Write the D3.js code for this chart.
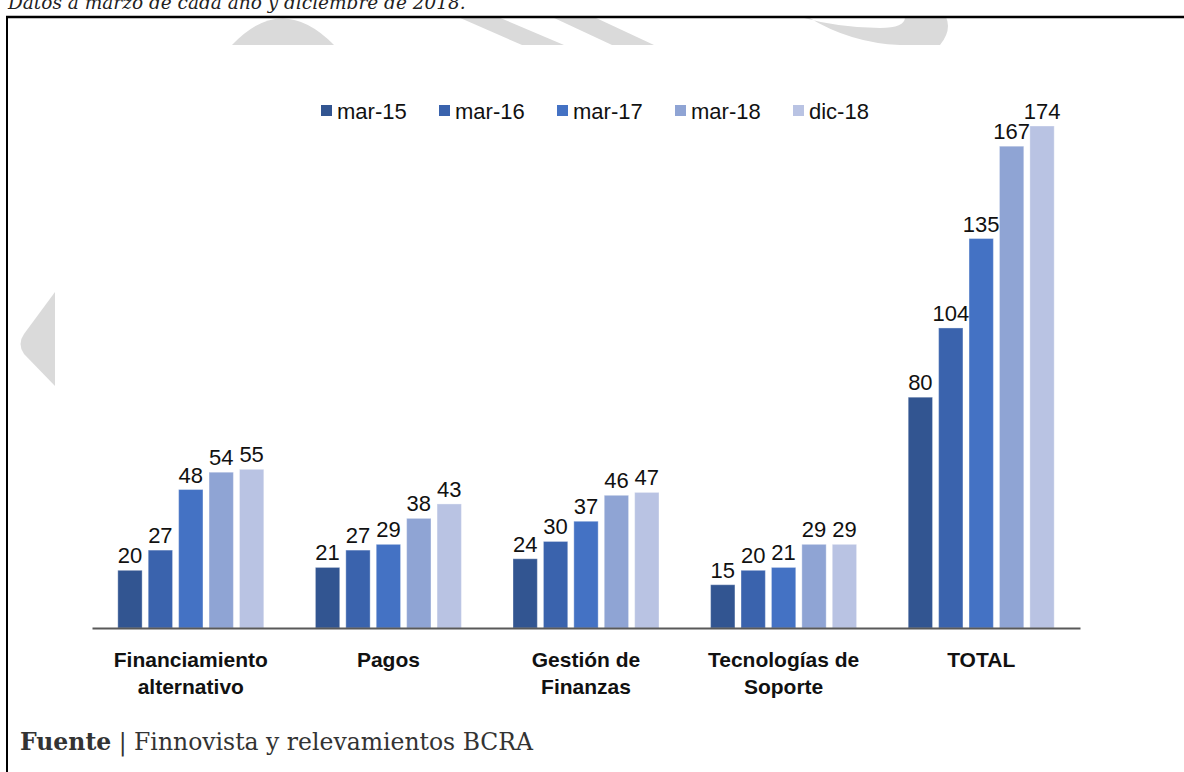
<!DOCTYPE html>
<html>
<head>
<meta charset="utf-8">
<script src="https://cdn.jsdelivr.net/npm/d3@7"></script>
<style>
  html, body { margin: 0; padding: 0; background: #ffffff; }
  svg { display: block; }
</style>
</head>
<body>
<div id="chart"></div>
<script>
// ---- data ----
const categories = ["Financiamiento alternativo", "Pagos", "Gestión de Finanzas", "Tecnologías de Soporte", "TOTAL"];
const categoryLines = [["Financiamiento", "alternativo"], ["Pagos"], ["Gestión de", "Finanzas"], ["Tecnologías de", "Soporte"], ["TOTAL"]];
const seriesNames = ["mar-15", "mar-16", "mar-17", "mar-18", "dic-18"];
const mar15 = [20, 21, 24, 15, 80];
const mar16 = [27, 27, 30, 20, 104];
const mar17 = [48, 29, 37, 21, 135];
const mar18 = [54, 38, 46, 29, 167];
const dic18 = [55, 43, 47, 29, 174];
const seriesColors = ["#325591", "#3a63ad", "#4472c4", "#8fa4d4", "#b9c3e3"];
const subtitle = "Datos a marzo de cada año y diciembre de 2018.";
const sourceBold = "Fuente";
const sourceText = "Finnovista y relevamientos BCRA";

const seriesValues = [mar15, mar16, mar17, mar18, dic18];
const rows = categories.map((c, i) => ({
  cat: c,
  lines: categoryLines[i],
  vals: seriesNames.map((s, j) => ({ s, v: seriesValues[j][i], color: seriesColors[j] }))
}));

const W = 1184, H = 772;
const svg = d3.select("#chart").append("svg").attr("width", W).attr("height", H);
svg.append("rect").attr("width", W).attr("height", H).attr("fill", "#fff");

// watermark shapes (light grey)
const wm = svg.append("g").attr("fill", "#dadada");
wm.append("path").attr("d", "M232,45 Q282,-8 334,45 Z");
wm.append("path").attr("d", "M458,17 L498,17 L564,45 L522,45 Z");
wm.append("path").attr("d", "M552,17 L594,17 L654,45 L612,45 Z");
wm.append("path").attr("d", "M760,17 L808,17 Q850,43 900,45 L940,45 Q952,30 946,17 L905,17 Q905,28 880,28 Q840,28 800,17 Z");
wm.append("path").attr("d", "M55,292 L24,334 Q17,344 24,354 L55,386 Z");

// subtitle (cut off at top)
svg.append("text")
  .attr("x", 8).attr("y", 9)
  .attr("font-family", "'DejaVu Serif', serif")
  .attr("font-style", "italic")
  .attr("font-size", 18.5)
  .attr("fill", "#222")
  .text(subtitle);

// frame
svg.append("line").attr("x1", 6).attr("x2", W).attr("y1", 17).attr("y2", 17)
  .attr("stroke", "#000").attr("stroke-width", 2.5);
svg.append("line").attr("x1", 7).attr("x2", 7).attr("y1", 17).attr("y2", H)
  .attr("stroke", "#000").attr("stroke-width", 2);

// scales
const x0 = d3.scaleBand().domain(categories).range([92, 1080]).paddingInner(0).paddingOuter(0);
const groupW = 146;
const x1 = d3.scaleBand().domain(seriesNames).range([0, groupW]).paddingInner(0.2).paddingOuter(0);
const y = d3.scaleLinear().domain([0, 200]).range([628, 51]);
const color = d3.scaleOrdinal().domain(seriesNames).range(seriesColors);

const groups = svg.append("g").selectAll("g").data(rows).join("g")
  .attr("transform", d => `translate(${x0(d.cat) + x0.bandwidth() / 2 - groupW / 2},0)`);

groups.selectAll("rect").data(d => d.vals).join("rect")
  .attr("x", d => x1(d.s))
  .attr("width", x1.bandwidth())
  .attr("y", d => y(d.v))
  .attr("height", d => y(0) - y(d.v))
  .attr("fill", d => color(d.s))
  .attr("stroke", "#ffffff").attr("stroke-opacity", 0.35).attr("stroke-width", 1);

groups.selectAll("text.lbl").data(d => d.vals).join("text")
  .attr("class", "lbl")
  .attr("x", d => x1(d.s) + x1.bandwidth() / 2)
  .attr("y", d => y(d.v) - 7)
  .attr("text-anchor", "middle")
  .attr("font-family", "'Liberation Sans', Arial, sans-serif")
  .attr("font-size", 22)
  .attr("fill", "#111")
  .text(d => d.v);

// axis
const axis = svg.append("g").attr("transform", `translate(0,${y(0)})`)
  .call(d3.axisBottom(x0).tickSize(0).tickFormat(""));
axis.select(".domain").attr("stroke", "#595959").attr("stroke-width", 2);

// category labels
const catG = svg.append("g").selectAll("text").data(rows).join("text")
  .attr("x", d => x0(d.cat) + x0.bandwidth() / 2)
  .attr("y", 667)
  .attr("text-anchor", "middle")
  .attr("font-family", "'Liberation Sans', Arial, sans-serif")
  .attr("font-weight", "bold")
  .attr("font-size", 21)
  .attr("fill", "#111");
catG.selectAll("tspan").data(d => d.lines).join("tspan")
  .attr("x", function () { return d3.select(this.parentNode).attr("x"); })
  .attr("dy", (d, i) => i === 0 ? 0 : 27)
  .text(d => d);

// legend
const legend = svg.append("g").selectAll("g").data(seriesNames).join("g")
  .attr("transform", (d, i) => `translate(${321 + i * 118},0)`);
legend.append("rect").attr("x", 0).attr("y", 105).attr("width", 11).attr("height", 11)
  .attr("fill", d => color(d));
legend.append("text").attr("x", 16).attr("y", 119)
  .attr("font-family", "'Liberation Sans', Arial, sans-serif")
  .attr("font-size", 22).attr("fill", "#111")
  .text(d => d);

// source
const src = svg.append("text").attr("x", 20).attr("y", 750)
  .attr("font-family", "'DejaVu Serif', Georgia, serif")
  .attr("font-size", 23.5).attr("fill", "#333");
src.append("tspan").attr("font-weight", "bold").text(sourceBold);
src.append("tspan").text(" | ");
src.append("tspan").text(sourceText);
</script>
</body>
</html>
